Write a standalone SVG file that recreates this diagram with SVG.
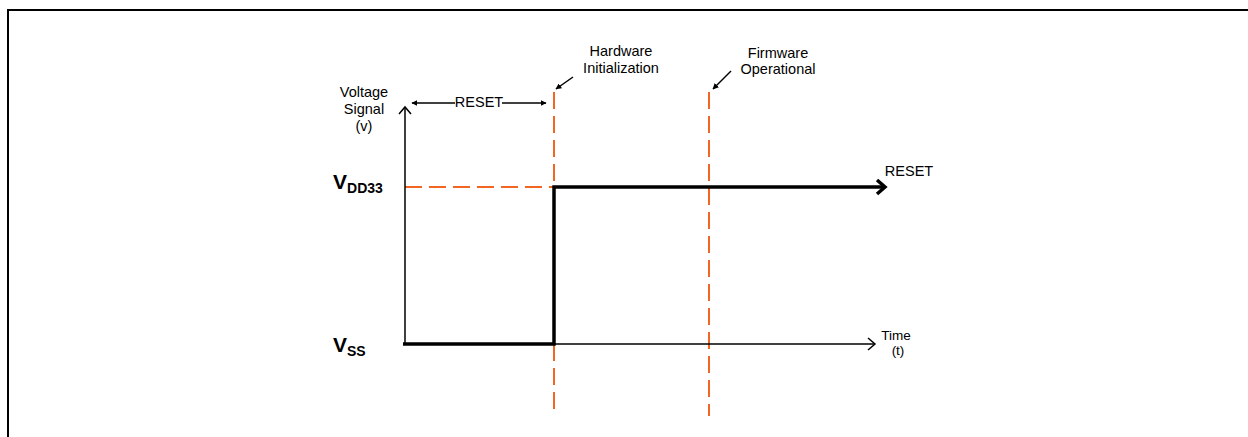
<svg xmlns="http://www.w3.org/2000/svg" width="1248" height="437" viewBox="0 0 1248 437">
  <style>
    .lbl { font-family: "Liberation Sans", Arial, sans-serif; font-size: 14.5px; fill: #000; text-anchor: middle; }
    .big { font-family: "Liberation Sans", Arial, sans-serif; font-weight: bold; fill: #000; }
    .axis { stroke: #000; stroke-width: 1.5; fill: none; }
    .sig { stroke: #000; stroke-width: 3.5; fill: none; }
    .dash { stroke: #F26522; stroke-width: 2; stroke-dasharray: 17 7; fill: none; }
    .thin { stroke: #000; stroke-width: 1.5; fill: none; }
  </style>
  <defs>
    <marker id="fill-arrow" viewBox="0 0 10 10" refX="9" refY="5" markerWidth="6" markerHeight="6" orient="auto" markerUnits="userSpaceOnUse">
      <path d="M0,0 L10,5 L0,10 z" fill="#000"/>
    </marker>
  </defs>
  <rect width="1248" height="437" fill="#fff"/>
  <!-- frame -->
  <path d="M8,437 L8,10 L1248,10" stroke="#000" stroke-width="2" fill="none"/>

  <g id="connectors">
    <!-- orange dashed guides -->
    <line class="dash" x1="405" y1="187" x2="554" y2="187"/>
    <line class="dash" x1="554" y1="92" x2="554" y2="187"/>
    <line class="dash" x1="554" y1="344" x2="554" y2="416"/>
    <line class="dash" x1="709" y1="92" x2="709" y2="416"/>
    <!-- axes -->
    <line class="axis" x1="405" y1="108" x2="405" y2="344"/>
    <path class="axis" d="M399,114 L405,107 L411,114"/>
    <line class="axis" x1="554" y1="344" x2="874" y2="344"/>
    <path class="axis" d="M868,338 L875,344 L868,350"/>
    <!-- signal -->
    <path class="sig" d="M403,344 L554,344 L554,187 L884,187"/>
    <path class="sig" d="M877,180 L885,187 L877,194"/>
    <!-- RESET span arrow -->
    <line class="thin" x1="455" y1="103" x2="412" y2="103" marker-end="url(#fill-arrow)"/>
    <line class="thin" x1="502" y1="103" x2="546" y2="103" marker-end="url(#fill-arrow)"/>
    <!-- callout arrows -->
    <line class="thin" x1="573" y1="77" x2="556" y2="89" marker-end="url(#fill-arrow)"/>
    <line class="thin" x1="731" y1="71" x2="713" y2="89" marker-end="url(#fill-arrow)"/>
  </g>

  <g id="y-label">
    <text class="lbl" x="364" y="97">Voltage</text>
    <text class="lbl" x="364" y="114">Signal</text>
    <text class="lbl" x="364" y="131">(v)</text>
  </g>
  <g id="reset-span-label">
    <text class="lbl" x="479" y="107">RESET</text>
  </g>
  <g id="hw-init">
    <text class="lbl" x="621" y="56">Hardware</text>
    <text class="lbl" x="621" y="73">Initialization</text>
  </g>
  <g id="fw-op">
    <text class="lbl" x="778" y="58">Firmware</text>
    <text class="lbl" x="778" y="74">Operational</text>
  </g>
  <g id="reset-signal-label">
    <text class="lbl" x="909" y="176">RESET</text>
  </g>
  <g id="time-label">
    <text class="lbl" x="896" y="340" style="font-size:13.5px">Time</text>
    <text class="lbl" x="898" y="355" style="font-size:13.5px">(t)</text>
  </g>
  <g id="vdd33">
    <text class="big" x="333" y="189" font-size="21">V<tspan font-size="14" dy="4">DD33</tspan></text>
  </g>
  <g id="vss">
    <text class="big" x="333" y="352" font-size="21">V<tspan font-size="14" dy="4">SS</tspan></text>
  </g>
</svg>
